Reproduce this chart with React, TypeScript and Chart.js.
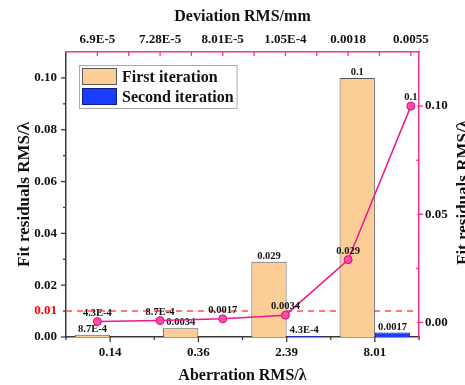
import React, { useEffect, useRef } from 'react';
import { Chart, registerables } from 'chart.js';

Chart.register(...registerables);

// ---- Data ----
const categories = ['0.14', '0.36', '2.39', '8.01'];
const firstIteration = [8.7e-4, 0.0034, 0.029, 0.1];
const firstLabels = ['8.7E-4', '0.0034', '0.029', '0.1'];
const secondIteration: (number | null)[] = [null, null, 4.3e-4, 0.0017];
const secondLabels = ['', '', '4.3E-4', '0.0017'];

const deviationTicks = ['6.9E-5', '7.28E-5', '8.01E-5', '1.05E-4', '0.0018', '0.0055'];
const deviationValues = [4.3e-4, 8.7e-4, 0.0017, 0.0034, 0.029, 0.1];
const deviationLabels = ['4.3E-4', '8.7E-4', '0.0017', '0.0034', '0.029', '0.1'];

const leftTickValues = [0, 0.01, 0.02, 0.03, 0.04, 0.05, 0.06, 0.07, 0.08, 0.09, 0.1];
const leftTickLabels = ['0.00', '0.01', '0.02', '', '0.04', '', '0.06', '', '0.08', '', '0.10'];
const rightTickValues = [0, 0.025, 0.05, 0.075, 0.1];
const rightTickLabels = ['0.00', '', '0.05', '', '0.10'];
const threshold = 0.01;

// ---- Layout / styles ----
const W = 465;
const H = 385;
const LEFT_W = 66;
const RIGHT_W = 46;
const TOP_H = 52;
const BOTTOM_H = 48;

const FONT = '"Liberation Serif", "Times New Roman", serif';
const DARK = '#3a3a3a';
const PINK = '#FF2E96';
const LINE_PINK = '#F2168A';
const ORANGE = '#FDCD98';
const BLUE = '#1E3CFF';
const RED = '#FF4B4B';

const tickFont = { family: FONT, size: 13, weight: 'bold' as const };
const titleFont = { family: FONT, size: 16, weight: 'bold' as const, lineHeight: 1 };

const seg = (ctx: CanvasRenderingContext2D, x1: number, y1: number, x2: number, y2: number) => {
  ctx.beginPath();
  ctx.moveTo(x1, y1);
  ctx.lineTo(x2, y2);
  ctx.stroke();
};

const dashedLinePlugin = {
  id: 'thresholdLine',
  beforeDatasetsDraw(chart: any) {
    const { ctx, chartArea } = chart;
    const y = chart.scales.y.getPixelForValue(threshold);
    ctx.save();
    ctx.strokeStyle = RED;
    ctx.lineWidth = 1.5;
    ctx.setLineDash([6, 5]);
    seg(ctx, chartArea.left, y, chartArea.right, y);
    ctx.restore();
  },
};

const valueLabelsPlugin = {
  id: 'valueLabels',
  afterDatasetsDraw(chart: any) {
    const ctx = chart.ctx;
    ctx.save();
    ctx.font = `bold 10.5px ${FONT}`;
    ctx.fillStyle = '#111';
    ctx.textAlign = 'center';
    ctx.textBaseline = 'alphabetic';
    chart.data.datasets.forEach((ds: any, di: number) => {
      const meta = chart.getDatasetMeta(di);
      meta.data.forEach((el: any, i: number) => {
        const t = ds.valueLabels ? ds.valueLabels[i] : '';
        const raw = ds.data[i];
        if (!t || raw == null) return;
        const { x, y } = el.getProps(['x', 'y'], true);
        ctx.fillText(t, x, y - (ds.type === 'line' ? 6 : 3));
      });
    });
    ctx.restore();
  },
};

const barTicksPlugin = {
  id: 'barTicks',
  afterDraw(chart: any) {
    const { ctx, chartArea } = chart;
    const { left, bottom } = chartArea;
    const sY = chart.scales.y;
    const sX = chart.scales.x;
    ctx.save();
    ctx.lineWidth = 1.3;
    ctx.strokeStyle = DARK;
    leftTickValues.forEach((v, i) => {
      const p = sY.getPixelForValue(v);
      const major = leftTickLabels[i] !== '' && v !== threshold;
      seg(ctx, left - (major ? 5 : 3), p, left, p);
    });
    categories.forEach((_, i) => {
      const p = sX.getPixelForValue(i);
      seg(ctx, p, bottom, p, bottom + 5);
    });
    for (let i = 0; i <= categories.length; i++) {
      const p = sX.getPixelForValue(i - 0.5);
      seg(ctx, p, bottom, p, bottom + 3);
    }
    ctx.restore();
  },
};

const lineTicksPlugin = {
  id: 'lineTicks',
  afterDraw(chart: any) {
    const { ctx, chartArea } = chart;
    const { top, right } = chartArea;
    const sT = chart.scales.xTop;
    const sR = chart.scales.yRight;
    ctx.save();
    ctx.lineWidth = 1.3;
    ctx.strokeStyle = PINK;
    for (let i = 0; i <= (deviationTicks.length - 1) * 2; i++) {
      const p = sT.getPixelForValue(i / 2);
      seg(ctx, p, top, p, top + 4);
    }
    rightTickValues.forEach((v, i) => {
      const p = sR.getPixelForValue(v);
      if (rightTickLabels[i] !== '') seg(ctx, right - 2, p, right + 4, p);
      else seg(ctx, right - 3, p, right, p);
    });
    ctx.restore();
  },
};

const legendPlugin = {
  id: 'insideLegend',
  afterDraw(chart: any) {
    const { ctx, chartArea } = chart;
    const bars = chart.data.datasets.filter((d: any) => d.type === 'bar');
    const x0 = chartArea.left + 13;
    const y0 = chartArea.top + 13;
    const rowH = 20;
    ctx.save();
    ctx.font = `bold 16px ${FONT}`;
    let maxW = 0;
    bars.forEach((d: any) => { maxW = Math.max(maxW, ctx.measureText(d.label).width); });
    const w = 3 + 35 + 5 + maxW + 3;
    const h = bars.length * rowH + 3;
    ctx.fillStyle = '#ffffff';
    ctx.fillRect(x0, y0, w, h);
    ctx.strokeStyle = '#a8a8a8';
    ctx.lineWidth = 1;
    ctx.strokeRect(x0 + 0.5, y0 + 0.5, w, h);
    bars.forEach((d: any, i: number) => {
      const sy = y0 + 3 + i * rowH;
      ctx.fillStyle = d.backgroundColor;
      ctx.fillRect(x0 + 3, sy, 35, 17);
      ctx.strokeStyle = d.borderColor;
      ctx.lineWidth = 1;
      ctx.strokeRect(x0 + 3.5, sy + 0.5, 34, 16);
      ctx.fillStyle = '#111';
      ctx.textAlign = 'left';
      ctx.textBaseline = 'middle';
      ctx.fillText(d.label, x0 + 43, sy + 9.5);
    });
    ctx.restore();
  },
};

const rightTitlePlugin = {
  id: 'rightTitle',
  afterDraw(chart: any) {
    const { ctx, chartArea } = chart;
    ctx.save();
    ctx.translate(chartArea.right + 45, (chartArea.top + chartArea.bottom) / 2 - 2);
    ctx.rotate(-Math.PI / 2);
    ctx.font = `bold 17px ${FONT}`;
    ctx.fillStyle = '#111';
    ctx.textAlign = 'center';
    ctx.textBaseline = 'middle';
    ctx.fillText('Fit residuals RMS/λ', 0, 0);
    ctx.restore();
  },
};

export default function App() {
  const barRef = useRef<HTMLCanvasElement | null>(null);
  const lineRef = useRef<HTMLCanvasElement | null>(null);

  useEffect(() => {
    if (!barRef.current || !lineRef.current) return;

    // Bars: bottom category axis + left value axis
    const barChart = new Chart(barRef.current, {
      type: 'bar',
      data: {
        labels: categories,
        datasets: [
          {
            type: 'bar',
            label: 'First iteration',
            data: firstIteration,
            backgroundColor: ORANGE,
            borderColor: '#5a5a5a',
            borderWidth: 1,
            categoryPercentage: 0.8,
            barPercentage: 1.0,
            valueLabels: firstLabels,
          } as any,
          {
            type: 'bar',
            label: 'Second iteration',
            data: secondIteration,
            backgroundColor: BLUE,
            borderColor: '#0B1E8A',
            borderWidth: 1,
            categoryPercentage: 0.8,
            barPercentage: 1.0,
            valueLabels: secondLabels,
          } as any,
        ],
      },
      options: {
        responsive: false,
        animation: false,
        layout: { padding: { top: TOP_H, right: RIGHT_W, left: 0, bottom: 0 } },
        plugins: { legend: { display: false }, tooltip: { enabled: false } },
        scales: {
          x: {
            type: 'category',
            position: 'bottom',
            offset: true,
            grid: { display: false, drawTicks: false },
            border: { display: true, color: DARK, width: 1.5 },
            ticks: { font: tickFont, color: '#111', padding: 8, autoSkip: false, maxRotation: 0 },
            title: { display: true, text: 'Aberration RMS/λ', font: titleFont, color: '#111', padding: { top: 0, bottom: 1 } },
            afterFit: (s: any) => { s.height = BOTTOM_H; },
          },
          y: {
            type: 'linear',
            position: 'left',
            min: 0,
            max: 0.11,
            grid: { display: false, drawTicks: false },
            border: { display: true, color: DARK, width: 1.5 },
            afterBuildTicks: (s: any) => { s.ticks = leftTickValues.map((value) => ({ value })); },
            ticks: {
              font: tickFont,
              padding: 9,
              autoSkip: false,
              color: (c: any) => (c.tick && c.tick.value === threshold ? '#FF0000' : '#111'),
              callback: (_v: any, i: number) => leftTickLabels[i],
            },
            title: { display: true, text: 'Fit residuals RMS/λ', font: { ...titleFont, size: 17 }, color: '#111', padding: { top: 16, bottom: 0 } },
            afterFit: (s: any) => { s.width = LEFT_W; },
          },
        },
      } as any,
      plugins: [dashedLinePlugin, valueLabelsPlugin, barTicksPlugin, legendPlugin],
    });

    // Line: top deviation axis + right value axis
    const lineChart = new Chart(lineRef.current, {
      type: 'line',
      data: {
        datasets: [
          {
            type: 'line',
            label: 'Deviation RMS',
            xAxisID: 'xTop',
            yAxisID: 'yRight',
            data: deviationValues.map((v, i) => ({ x: i, y: v })),
            borderColor: LINE_PINK,
            borderWidth: 1.5,
            pointRadius: 4,
            pointBackgroundColor: '#FF4FAA',
            pointBorderColor: '#E0047A',
            pointBorderWidth: 1,
            tension: 0,
            valueLabels: deviationLabels,
          } as any,
        ],
      },
      options: {
        responsive: false,
        animation: false,
        layout: { padding: { top: 0, right: 0, left: LEFT_W, bottom: BOTTOM_H } },
        plugins: { legend: { display: false }, tooltip: { enabled: false } },
        scales: {
          xTop: {
            type: 'linear',
            position: 'top',
            offset: false,
            min: -0.5,
            max: 5.13,
            grid: { display: false, drawTicks: false },
            border: { display: true, color: PINK, width: 1.5 },
            afterBuildTicks: (s: any) => { s.ticks = deviationTicks.map((_, i) => ({ value: i })); },
            ticks: {
              font: tickFont,
              color: '#111',
              padding: 5,
              autoSkip: false,
              maxRotation: 0,
              callback: (_v: any, i: number) => deviationTicks[i],
            },
            title: { display: true, text: 'Deviation RMS/mm', font: titleFont, color: '#111', padding: { top: 9, bottom: 0 } },
            afterFit: (s: any) => { s.height = TOP_H; },
          },
          yRight: {
            type: 'linear',
            position: 'right',
            min: -0.0067,
            max: 0.125,
            grid: { display: false, drawTicks: false },
            border: { display: true, color: PINK, width: 1.5 },
            afterBuildTicks: (s: any) => { s.ticks = rightTickValues.map((value) => ({ value })); },
            ticks: {
              font: tickFont,
              color: '#111',
              padding: 6,
              autoSkip: false,
              callback: (_v: any, i: number) => rightTickLabels[i],
            },
            afterFit: (s: any) => { s.width = RIGHT_W; },
          },
        },
      } as any,
      plugins: [valueLabelsPlugin, lineTicksPlugin, rightTitlePlugin],
    });

    return () => {
      barChart.destroy();
      lineChart.destroy();
    };
  }, []);

  return (
    <div style={{ position: 'fixed', left: 0, top: 0, width: W, height: H, background: '#fff' }}>
      <canvas ref={barRef} width={W} height={H} style={{ position: 'absolute', left: 0, top: 0, display: 'block' }} />
      <canvas ref={lineRef} width={W} height={H} style={{ position: 'absolute', left: 0, top: 0, display: 'block' }} />
    </div>
  );
}
